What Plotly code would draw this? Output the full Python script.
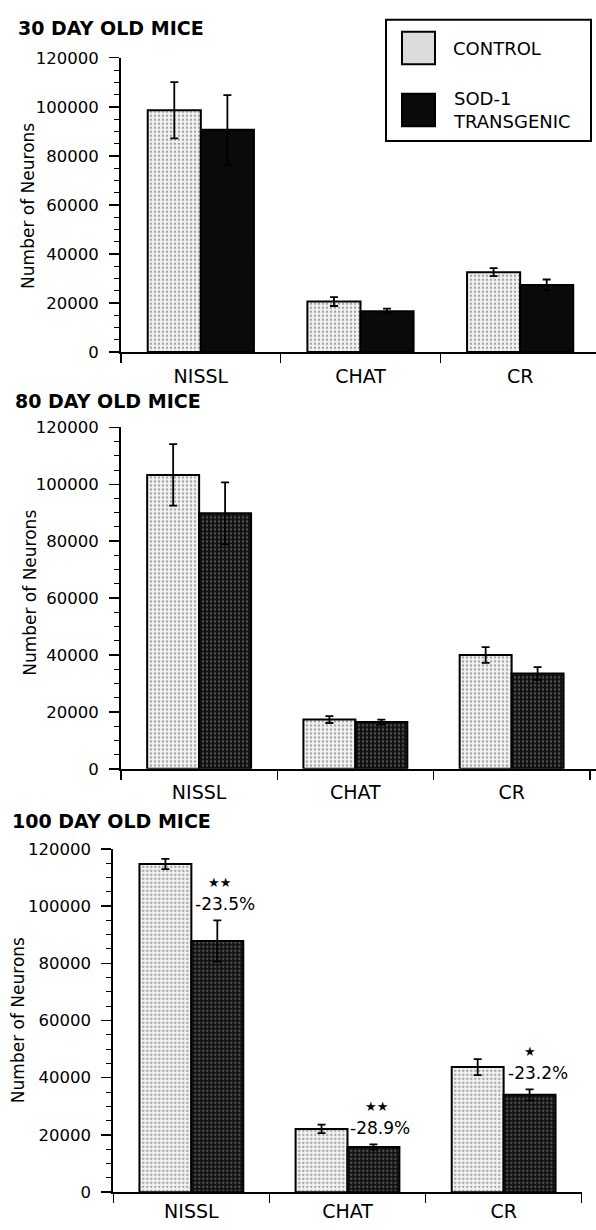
import plotly.graph_objects as go

# ---------------- data ----------------
categories = ["NISSL", "CHAT", "CR"]
panel_titles = ["30 DAY OLD MICE", "80 DAY OLD MICE", "100 DAY OLD MICE"]
series_names = ["CONTROL", "SOD-1<br>TRANSGENIC"]
y_ticks = [0, 20000, 40000, 60000, 80000, 100000, 120000]

control_30 = [98600, 20600, 32600]
control_30_err = [11500, 1800, 1600]
sod_30 = [90600, 16700, 27400]
sod_30_err = [14200, 1000, 2200]

control_80 = [103300, 17300, 40000]
control_80_err = [10800, 1200, 2800]
sod_80 = [89800, 16400, 33500]
sod_80_err = [10900, 900, 2200]

control_100 = [114700, 22100, 43700]
control_100_err = [1800, 1500, 2800]
sod_100 = [87800, 15800, 34000]
sod_100_err = [7200, 900, 1900]

sig_stars_100 = ["★★", "★★", "★"]
pct_change_100 = ["-23.5%", "-28.9%", "-23.2%"]

# ---------------- layout helpers ----------------
W, H = 596, 1230
FONT = "DejaVu Sans"


def fx(px):
    return px / W


def fy(py):
    return 1 - py / H


panels = [
    dict(ctrl=control_30, ctrl_err=control_30_err, sod=sod_30, sod_err=sod_30_err,
         x0=121, x1=596, xr=[-0.5, 2.475], ybot=348.5, ytop=49.5,
         sod_pattern=None, xstand=6, title_x=16, title_y=19, ytitle_x=28, ytitle_y=200),
    dict(ctrl=control_80, ctrl_err=control_80_err, sod=sod_80, sod_err=sod_80_err,
         x0=121, x1=596, xr=[-0.5, 2.54], ybot=771.7, ytop=425,
         sod_pattern=True, xstand=5, title_x=13, title_y=398, ytitle_x=30, ytitle_y=593),
    dict(ctrl=control_100, ctrl_err=control_100_err, sod=sod_100, sod_err=sod_100_err,
         x0=113.3, x1=581.7, xr=[-0.5, 2.5], ybot=1201.7, ytop=853,
         sod_pattern=True, xstand=1, title_x=10, title_y=825, ytitle_x=18, ytitle_y=1027),
]

fig = go.Figure()
layout = dict(
    width=W, height=H, margin=dict(l=0, r=0, t=0, b=0),
    paper_bgcolor="white", plot_bgcolor="white",
    barmode="group", bargap=0.335, bargroupgap=0,
    showlegend=False,
    font=dict(family=FONT, color="black"),
)
annotations = []
shapes = []

for i, p in enumerate(panels):
    sfx = "" if i == 0 else str(i + 1)
    xa, ya = "x" + sfx, "y" + sfx
    ctrl_marker = dict(
        color="white",
        line=dict(color="black", width=2),
        pattern=dict(shape=".", fgcolor="#555555", bgcolor="#f4f4f4", size=4, solidity=0.3),
    )
    if p["sod_pattern"]:
        sod_marker = dict(
            color="black",
            line=dict(color="black", width=2),
            pattern=dict(shape=".", fgcolor="#9a9a9a", bgcolor="#111111", size=4, solidity=0.25),
        )
    else:
        sod_marker = dict(color="#0a0a0a", line=dict(color="black", width=2))
    fig.add_trace(go.Bar(
        x=categories, y=p["ctrl"], name="CONTROL", marker=ctrl_marker,
        error_y=dict(type="data", array=p["ctrl_err"], color="black", thickness=1.8, width=4),
        xaxis=xa, yaxis=ya,
    ))
    fig.add_trace(go.Bar(
        x=categories, y=p["sod"], name="SOD-1 TRANSGENIC", marker=sod_marker,
        error_y=dict(type="data", array=p["sod_err"], color="black", thickness=1.8, width=4),
        xaxis=xa, yaxis=ya,
    ))
    layout["xaxis" + sfx] = dict(
        domain=[fx(p["x0"]), fx(p["x1"])], anchor=ya, type="category",
        range=p["xr"], tickson="boundaries", ticks="outside", ticklen=9, tickwidth=1.5,
        tickcolor="black", showline=True, linewidth=2, linecolor="black",
        showgrid=False, zeroline=False, ticklabelstandoff=p["xstand"],
        tickfont=dict(family=FONT, size=19, color="black"),
        fixedrange=True,
    )
    layout["yaxis" + sfx] = dict(
        domain=[fy(p["ybot"]), fy(p["ytop"])], anchor=xa,
        range=[0, 120000], tickvals=y_ticks, ticktext=[str(v) for v in y_ticks],
        ticks="outside", ticklen=10, tickwidth=1.5, tickcolor="black",
        showline=True, linewidth=2, linecolor="black",
        showgrid=False, zeroline=False, ticklabelstandoff=7,
        minor=dict(dtick=5000, tick0=0, ticks="outside", ticklen=5, tickwidth=1, tickcolor="black"),
        tickfont=dict(family=FONT, size=16.5, color="black"),
        fixedrange=True,
    )
    annotations.append(dict(
        text=panel_titles[i], xref="paper", yref="paper", x=fx(p["title_x"]), y=fy(p["title_y"]),
        xanchor="left", yanchor="middle", showarrow=False,
        font=dict(family=FONT, size=19, color="black", weight="bold"),
    ))
    annotations.append(dict(
        text="Number of Neurons", xref="paper", yref="paper",
        x=fx(p["ytitle_x"]), y=fy(p["ytitle_y"]), textangle=-90,
        xanchor="center", yanchor="middle", showarrow=False,
        font=dict(family=FONT, size=17, color="black"),
    ))

# significance labels on 100-day panel
pct_dx = [34, 32, 34]
star_dx = [28, 29, 26]
for j, cat in enumerate(categories):
    top = sod_100[j] + sod_100_err[j]
    annotations.append(dict(
        text=pct_change_100[j], xref="x3", yref="y3", x=cat, y=top,
        xshift=pct_dx[j], yshift=16, xanchor="center", yanchor="middle", showarrow=False,
        font=dict(family=FONT, size=17, color="black"),
    ))
    annotations.append(dict(
        text=sig_stars_100[j], xref="x3", yref="y3", x=cat, y=top,
        xshift=star_dx[j], yshift=38, xanchor="center", yanchor="middle", showarrow=False,
        font=dict(family=FONT, size=13, color="black"),
    ))

# legend box (drawn manually to match the large swatches)
shapes.append(dict(type="rect", xref="paper", yref="paper",
                   x0=fx(386), x1=fx(591), y0=fy(134), y1=fy(11),
                   line=dict(color="black", width=2), fillcolor="white", layer="above"))
shapes.append(dict(type="rect", xref="paper", yref="paper",
                   x0=fx(402), x1=fx(435), y0=fy(56), y1=fy(23),
                   line=dict(color="black", width=2), fillcolor="#dcdcdc", layer="above"))
shapes.append(dict(type="rect", xref="paper", yref="paper",
                   x0=fx(402), x1=fx(435), y0=fy(119), y1=fy(86),
                   line=dict(color="black", width=2), fillcolor="#0a0a0a", layer="above"))
annotations.append(dict(
    text=series_names[0], xref="paper", yref="paper", x=fx(451), y=fy(40),
    xanchor="left", yanchor="middle", showarrow=False,
    font=dict(family=FONT, size=18, color="black"),
))
annotations.append(dict(
    text=series_names[1], xref="paper", yref="paper", x=fx(451), y=fy(102.5),
    xanchor="left", yanchor="middle", align="left", showarrow=False,
    font=dict(family=FONT, size=18, color="black"),
))

layout["annotations"] = annotations
layout["shapes"] = shapes
fig.update_layout(**layout)
fig.write_html(
    "out.html",
    config={"displayModeBar": False, "staticPlot": True},
    post_script="document.body.style.margin='0';document.body.style.overflow='hidden';",
)
